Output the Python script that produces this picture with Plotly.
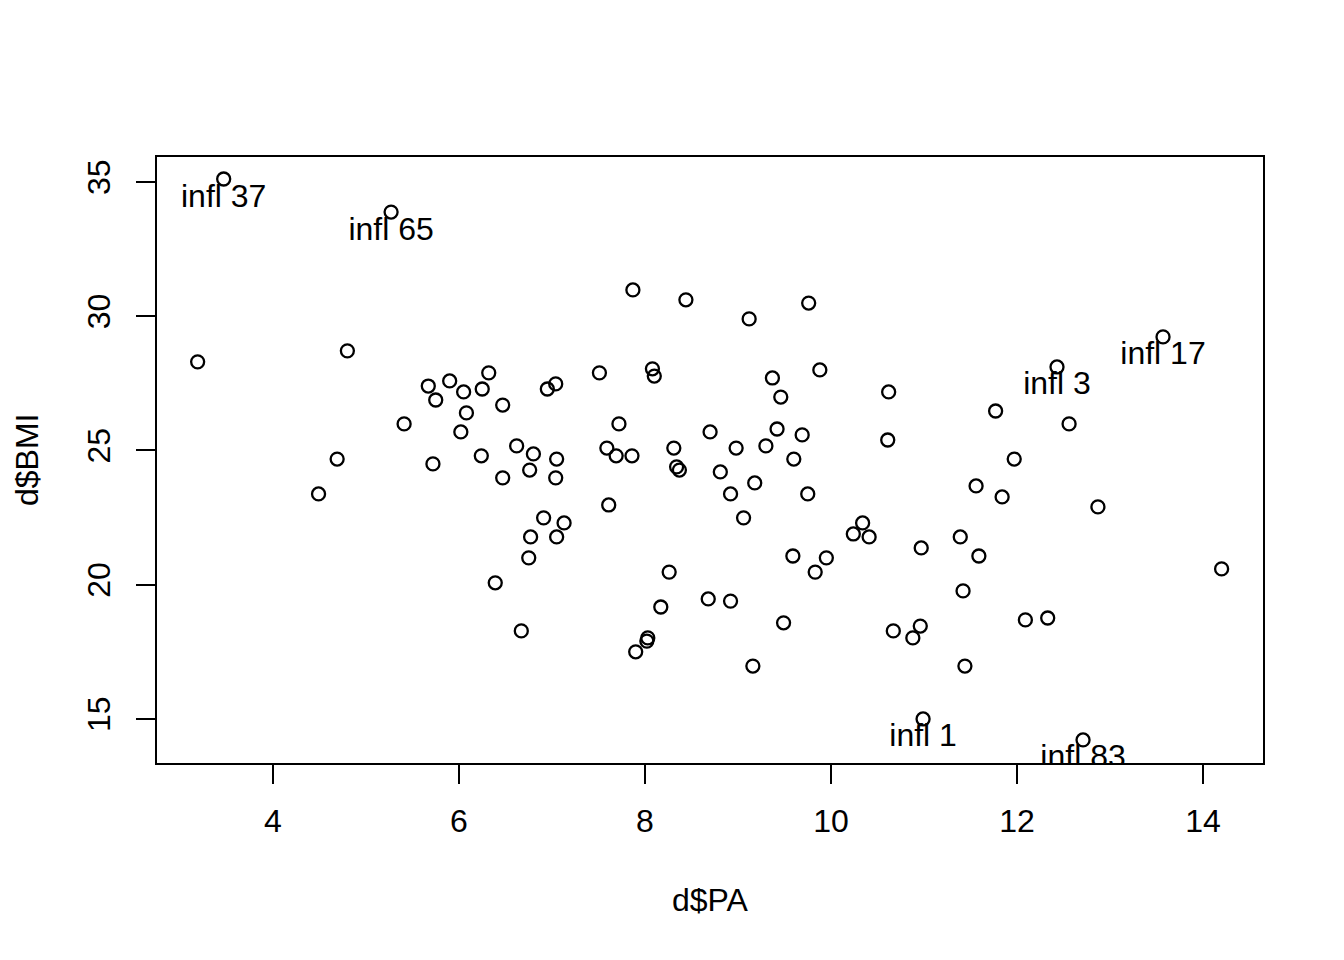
import plotly.graph_objects as go

# Data (d$PA vs d$BMI)
pa = [3.47, 5.27, 3.19, 4.80, 4.49, 4.69, 5.41, 5.67, 5.72, 5.75,
      5.90, 6.02, 6.05, 6.08, 6.24, 6.25, 6.32, 6.39, 6.47, 6.47,
      6.62, 6.67, 6.75, 6.76, 6.77, 6.80, 6.91, 6.95, 7.04, 7.04,
      7.05, 7.05, 7.13, 7.51, 7.59, 7.61, 7.69, 7.72, 7.87, 7.86,
      7.90, 8.02, 8.03, 8.08, 8.10, 8.17, 8.26, 8.31, 8.34, 8.37,
      8.44, 8.68, 8.70, 8.81, 8.92, 8.92, 8.98, 9.06, 9.12, 9.16,
      9.18, 9.30, 9.37, 9.42, 9.46, 9.49, 9.59, 9.60, 9.69, 9.75,
      9.76, 9.83, 9.88, 9.95, 10.24, 10.34, 10.41, 10.61, 10.62, 10.67,
      10.88, 10.96, 10.97, 10.99, 11.39, 11.42, 11.44, 11.56, 11.59, 11.77,
      11.84, 11.97, 12.09, 12.33, 12.43, 12.56, 12.71, 12.87, 13.57, 14.20]
bmi = [35.11, 33.88, 28.30, 28.71, 23.38, 24.68, 25.99, 27.40, 24.50, 26.88,
       27.59, 25.69, 27.18, 26.40, 24.80, 27.29, 27.89, 20.07, 26.69, 23.98,
       25.17, 18.28, 21.00, 24.27, 21.78, 24.87, 22.49, 27.29, 27.48, 23.98,
       24.68, 21.78, 22.30, 27.89, 25.09, 22.97, 24.80, 25.99, 30.98, 24.80,
       17.50, 17.90, 18.02, 28.04, 27.77, 19.17, 20.47, 25.09, 24.39, 24.27,
       30.61, 19.47, 25.69, 24.20, 19.39, 23.38, 25.09, 22.49, 29.90, 16.97,
       23.79, 25.17, 27.70, 25.80, 26.99, 18.58, 21.07, 24.68, 25.58, 23.38,
       30.49, 20.47, 28.00, 21.00, 21.89, 22.30, 21.78, 25.39, 27.18, 18.28,
       18.02, 18.46, 21.37, 15.00, 21.78, 19.77, 16.97, 23.68, 21.07, 26.47,
       23.27, 24.68, 18.69, 18.76, 28.11, 25.99, 14.22, 22.90, 29.23, 20.59]

# Influential points
infl_pa = [3.47, 5.27, 12.43, 13.57, 10.99, 12.71]
infl_bmi = [35.11, 33.88, 28.11, 29.23, 15.00, 14.22]
infl_labels = ["infl 37", "infl 65", "infl 3", "infl 17", "infl 1", "infl 83"]

x_ticks = [4, 6, 8, 10, 12, 14]
y_ticks = [15, 20, 25, 30, 35]

FONT = "Liberation Sans, Arial, sans-serif"

fig = go.Figure()
fig.add_trace(go.Scatter(
    x=pa, y=bmi, mode="markers",
    marker=dict(symbol="circle-open", size=13, color="black", line=dict(width=2.3)),
    showlegend=False, hoverinfo="x+y"))
fig.add_trace(go.Scatter(
    x=infl_pa, y=infl_bmi, mode="markers+text", text=infl_labels,
    textposition="bottom center",
    textfont=dict(family=FONT, size=32, color="black"),
    marker=dict(size=4, color="rgba(0,0,0,0)"),
    cliponaxis=True, showlegend=False, hoverinfo="skip"))

axis_common = dict(
    showgrid=False, zeroline=False, showline=True, linecolor="black", linewidth=2,
    mirror=True, ticks="outside", ticklen=19, tickwidth=2, tickcolor="black",
    tickfont=dict(family=FONT, size=32, color="black"))

fig.update_xaxes(range=[2.753, 14.645], tickvals=x_ticks, ticktext=[str(v) for v in x_ticks],
                 ticklabelstandoff=10, **axis_common)
fig.update_yaxes(range=[13.36, 35.93], tickvals=y_ticks, ticktext=[str(v) for v in y_ticks],
                 tickangle=-90, ticklabelstandoff=13, **axis_common)

fig.update_layout(
    width=1344, height=960,
    margin=dict(l=149, r=89, t=149, b=205),
    paper_bgcolor="white", plot_bgcolor="white",
    font=dict(family=FONT, size=32, color="black"),
    annotations=[
        dict(text="d$PA", xref="paper", yref="paper", x=0.5, y=-0.226,
             xanchor="center", yanchor="middle", showarrow=False,
             font=dict(family=FONT, size=32, color="black")),
        dict(text="d$BMI", xref="paper", yref="paper", x=-0.1175, y=0.5,
             xanchor="center", yanchor="middle", showarrow=False, textangle=-90,
             font=dict(family=FONT, size=32, color="black")),
    ],
)

fig.write_html("out.html")
